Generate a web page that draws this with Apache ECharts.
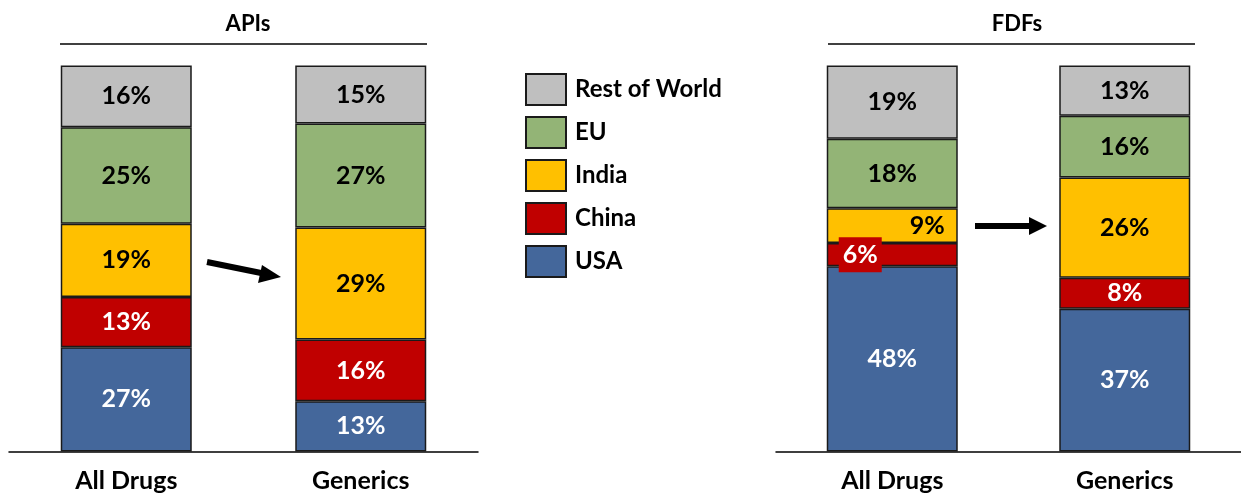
<!DOCTYPE html>
<html>
<head>
<meta charset="utf-8">
<script src="https://cdn.jsdelivr.net/npm/echarts@6/dist/echarts.min.js"></script>
<style>
  html, body { margin: 0; padding: 0; background: #fff; }
  #chart { width: 1241px; height: 498px; }
</style>
</head>
<body>
<div id="chart"></div>
<script>
// Sourcing shares (%) by region, stacked bottom (USA) to top (Rest of World)
const categories = ['All Drugs', 'Generics'];
const regions = ['USA', 'China', 'India', 'EU', 'Rest of World'];
const panelTitles = ['APIs', 'FDFs'];

const apiUSA   = [27, 13];
const apiChina = [13, 16];
const apiIndia = [19, 29];
const apiEU    = [25, 27];
const apiRoW   = [16, 15];

const fdfUSA   = [48, 37];
const fdfChina = [6, 8];
const fdfIndia = [9, 26];
const fdfEU    = [18, 16];
const fdfRoW   = [19, 13];

const colors = {
  'USA': '#44679B',
  'China': '#C00000',
  'India': '#FFC000',
  'EU': '#93B476',
  'Rest of World': '#BFBFBF'
};
const whiteText = { 'USA': true, 'China': true };

const FONT = 'Lato, "Open Sans", sans-serif';
const chart = echarts.init(document.getElementById('chart'), null, { renderer: 'canvas' });

const panels = [
  [apiUSA, apiChina, apiIndia, apiEU, apiRoW],
  [fdfUSA, fdfChina, fdfIndia, fdfEU, fdfRoW]
];

// Small FDF "All Drugs" slices get their labels nudged to the sides
const labelOverrides = {
  '1-China-0': { position: 'insideLeft', distance: 12, backgroundColor: colors['China'], padding: [6, 4, 4, 4] },
  '1-India-0': { position: 'insideRight', distance: 13 }
};

const series = [];
panels.forEach((vals, p) => {
  regions.forEach((name, r) => {
    series.push({
      name: name,
      type: 'bar',
      stack: 'panel' + p,
      xAxisIndex: p,
      yAxisIndex: p,
      barWidth: 131,
      itemStyle: { color: colors[name], borderColor: '#1a1a1a', borderWidth: 1.5 },
      label: {
        show: true,
        position: 'inside',
        formatter: '{c}%',
        fontFamily: FONT,
        fontWeight: 'bold',
        fontSize: 25,
        color: whiteText[name] ? '#fff' : '#000'
      },
      data: vals[r].map((v, i) => {
        const ov = labelOverrides[p + '-' + name + '-' + i];
        return ov ? { value: v, label: ov } : v;
      })
    });
  });
});

const xAxisBase = {
  type: 'category',
  data: categories,
  axisLine: { lineStyle: { color: '#000', width: 1.5 } },
  axisTick: { show: false },
  axisLabel: { fontFamily: FONT, fontWeight: 'bold', fontSize: 25, color: '#000', margin: 17 }
};
const yAxisBase = { type: 'value', min: 0, max: 100, show: false, splitLine: { show: false } };

chart.setOption({
  animation: false,
  backgroundColor: '#fff',
  title: [
    { text: panelTitles[0], left: 243, top: 8, textAlign: 'center',
      textStyle: { fontFamily: FONT, fontWeight: 'bold', fontSize: 22, color: '#000' } },
    { text: panelTitles[1], left: 1012, top: 8, textAlign: 'center',
      textStyle: { fontFamily: FONT, fontWeight: 'bold', fontSize: 22, color: '#000' } }
  ],
  grid: [
    { left: 9, top: 65.5, width: 469, height: 386 },
    { left: 776, top: 65.5, width: 470, height: 386 }
  ],
  xAxis: [
    Object.assign({ gridIndex: 0 }, xAxisBase),
    Object.assign({ gridIndex: 1 }, xAxisBase)
  ],
  yAxis: [
    Object.assign({ gridIndex: 0 }, yAxisBase),
    Object.assign({ gridIndex: 1 }, yAxisBase)
  ],
  legend: {
    orient: 'vertical',
    left: 525,
    top: 73,
    padding: 0,
    icon: 'rect',
    itemWidth: 40,
    itemHeight: 31,
    itemGap: 10,
    selectedMode: false,
    data: regions.slice().reverse(),
    textStyle: { fontFamily: FONT, fontWeight: 'bold', fontSize: 24, color: '#000', padding: [0, 0, 0, 4] }
  },
  series: series
});

// Title underlines and the arrows between bars
chart.setOption({
  graphic: [
    { type: 'line', shape: { x1: 60, y1: 44, x2: 427, y2: 44 }, style: { stroke: '#000', lineWidth: 1.5 } },
    { type: 'line', shape: { x1: 828, y1: 44, x2: 1195, y2: 44 }, style: { stroke: '#000', lineWidth: 1.5 } },
    { type: 'line', shape: { x1: 207, y1: 262, x2: 266, y2: 274 }, style: { stroke: '#000', lineWidth: 6 } },
    { type: 'polygon', shape: { points: [[281, 277], [262, 265], [258, 283]] }, style: { fill: '#000' } },
    { type: 'line', shape: { x1: 975, y1: 226, x2: 1030, y2: 226 }, style: { stroke: '#000', lineWidth: 6 } },
    { type: 'polygon', shape: { points: [[1047, 226], [1029, 217], [1029, 235]] }, style: { fill: '#000' } }
  ]
});
</script>
</body>
</html>
